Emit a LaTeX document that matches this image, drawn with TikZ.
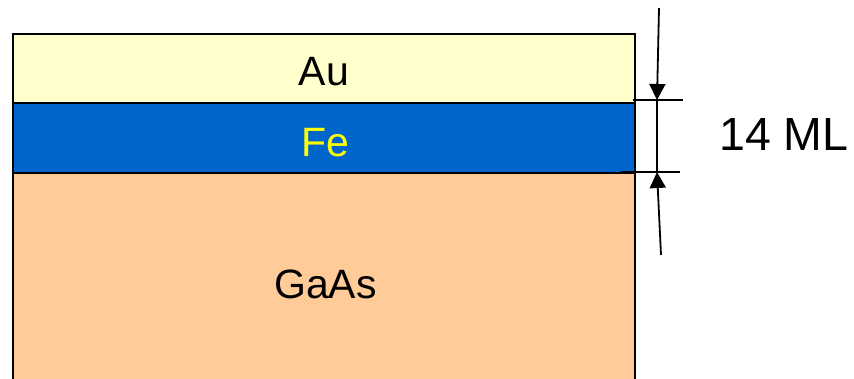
\documentclass[tikz,border=0pt]{standalone}
\usepackage{fontspec}
\setmainfont{Liberation Sans}
\usetikzlibrary{arrows.meta}
\definecolor{auC}{HTML}{FFFFCC}
\definecolor{feC}{HTML}{0066CC}
\definecolor{gaC}{HTML}{FFCC99}
\definecolor{feT}{HTML}{FFFF00}
\tikzset{
  layer/.style={line width=2pt, draw=black},
  lbl/.style={anchor=base, inner sep=0pt, font=\fontsize{41}{48}\selectfont},
  dim/.style={line width=1.6pt, draw=black},
  dimarrow/.style={line width=1.8pt, -{Triangle[length=16pt,width=16pt]}}
}
\begin{document}
\begin{tikzpicture}[x=1pt,y=-1pt]
\useasboundingbox (0,0) rectangle (854,378);
% layers
\fill[gaC] (13,173) rectangle (635,380);
\draw[layer] (13,380) -- (13,173) -- (635,173) -- (635,380);
\draw[layer, fill=feC] (13,103) rectangle (635,173);
\draw[layer, fill=auC] (13,34) rectangle (635,103);
% labels
\node[lbl] (au) at (324,85.5) {Au};
\node[lbl, text=feT] (fe) at (325,156) {Fe};
\node[lbl] (gaas) at (325.5,298) {GaAs};
\node[anchor=base west, inner sep=0pt, font=\fontsize{46.5}{54}\selectfont] (ml) at (719,150.5) {14 ML};
% dimension lines
\coordinate (t1) at (633,100); \coordinate (t2) at (683,100);
\coordinate (b1) at (621,172); \coordinate (b2) at (680,172);
\coordinate (topTail) at (659,8); \coordinate (topTip) at (657,100);
\coordinate (botTail) at (661,255); \coordinate (botTip) at (657,172);
\draw[dim] (t1) -- (t2);
\draw[dim] (b1) -- (b2);
\draw[dim] (topTip) -- (botTip);
\draw[dimarrow] (topTail) -- (topTip);
\draw[dimarrow] (botTail) -- (botTip);
\end{tikzpicture}
\end{document}
